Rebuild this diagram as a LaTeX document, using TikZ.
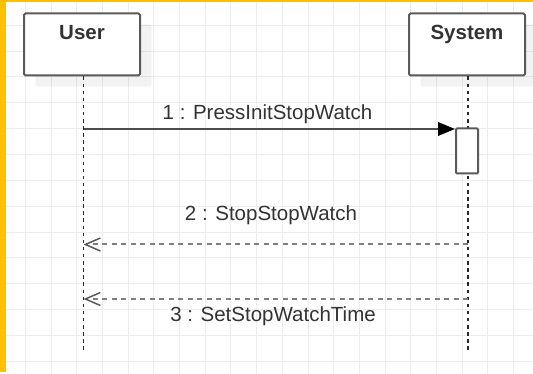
\documentclass[tikz,border=0pt]{standalone}
\usepackage{fontspec}
\setmainfont{Liberation Sans}
\usetikzlibrary{arrows.meta,shadows}

\definecolor{frameorange}{HTML}{FFC000}
\definecolor{gridline}{HTML}{EDEDED}
\definecolor{boxline}{HTML}{5A5A5A}
\definecolor{txt}{HTML}{333333}
\definecolor{callline}{HTML}{4D4D4D}
\definecolor{replyline}{HTML}{808080}

\begin{document}
\begin{tikzpicture}[x=1pt,y=-1pt,
  labelfont/.style={font=\fontsize{20.5pt}{24pt}\selectfont, text=txt},
  actor/.style={draw=boxline, line width=2pt, fill=white, rounded corners=1.5pt,
    minimum width=116pt, minimum height=62pt, inner sep=0pt,
    drop shadow={shadow xshift=11.5pt, shadow yshift=-11pt, opacity=0.05, fill=black}},
  actorname/.style={labelfont, font=\fontsize{20.5pt}{24pt}\selectfont\bfseries, anchor=base, inner sep=0pt},
  activation/.style={draw=boxline, line width=2pt, fill=white, rounded corners=1pt,
    minimum width=22pt, minimum height=45pt, inner sep=0pt},
  lifeline/.style={draw=black!85, line width=1.5pt, dash pattern=on 3.5pt off 3.6pt},
  call/.style={draw=callline, line width=2pt,
    -{Triangle[length=17pt,width=13.5pt,fill=black,color=black]}},
  reply/.style={draw=replyline, line width=2pt, dash pattern=on 5pt off 4.5pt,
    -{Straight Barb[length=15pt,width=13pt,line width=1.5pt,color=boxline]}},
  msglabel/.style={labelfont, anchor=base, inner sep=0pt}]

% canvas and framing strips
\useasboundingbox (0,0) rectangle (533,374);
\fill[white] (0,0) rectangle (533,374);
\foreach \i in {0,...,19}
  \draw[gridline, line width=1pt] (25.3+25.7*\i,0) -- (25.3+25.7*\i,374);
\foreach \j in {0,...,13}
  \draw[gridline, line width=1pt] (0,25.3+25.85*\j) -- (533,25.3+25.85*\j);
\fill[frameorange] (0,0) rectangle (6,372);
\fill[frameorange] (0,0) rectangle (533,2);

% participants
\node[actor] (user) at (82,44.5) {};
\node[actor] (system) at (467,44.5) {};
\node[actorname] (userName) at (82,40) {User};
\node[actorname] (systemName) at (467,40) {System};

% lifelines
\coordinate (userEnd) at (83.5,352);
\coordinate (systemEnd) at (468,350);
\draw[lifeline] (user.south -| userEnd) -- (userEnd);
\draw[lifeline] (system.south -| systemEnd) -- (systemEnd);

% activation bar on the System lifeline
\node[activation] (act) at (467,151) {};

% message 1: synchronous call
\coordinate (callStart) at (83.5,129);
\draw[call] (callStart) -- (act.west |- callStart);
\node[msglabel] (callLabel) at (267.5,119.3) {1 : PressInitStopWatch};

% message 2: reply
\coordinate (reply2Start) at (468,244.5);
\coordinate (reply2End) at (83.5,244.5);
\draw[reply] (reply2Start) -- (reply2End);
\node[msglabel] (reply2Label) at (271,221) {2 : StopStopWatch};

% message 3: reply
\coordinate (reply3Start) at (468,299);
\coordinate (reply3End) at (83.5,299);
\draw[reply] (reply3Start) -- (reply3End);
\node[msglabel] (reply3Label) at (273,321) {3 : SetStopWatchTime};
\end{tikzpicture}
\end{document}
